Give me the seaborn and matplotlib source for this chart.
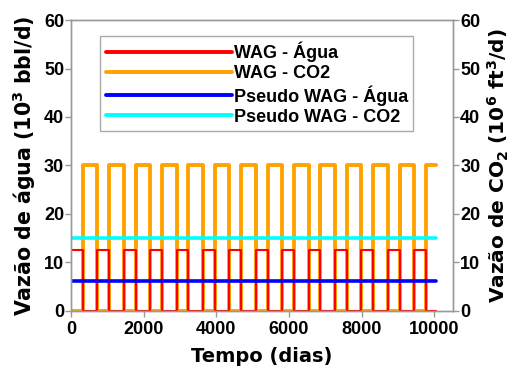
import matplotlib
matplotlib.use('Agg')
import matplotlib.pyplot as plt
import seaborn as sns

# ---- data ----
wag_time = [0, 323, 723, 1050, 1450, 1777, 2177, 2504, 2904, 3231, 3631, 3958, 4358,
            4685, 5085, 5412, 5812, 6139, 6539, 6866, 7266, 7593, 7993, 8320, 8720,
            9047, 9447, 9774, 10050]
wag_agua = [12.5, 0, 12.5, 0, 12.5, 0, 12.5, 0, 12.5, 0, 12.5, 0, 12.5, 0,
            12.5, 0, 12.5, 0, 12.5, 0, 12.5, 0, 12.5, 0, 12.5, 0, 12.5, 0, 0]
wag_co2 = [0, 30, 0, 30, 0, 30, 0, 30, 0, 30, 0, 30, 0, 30,
           0, 30, 0, 30, 0, 30, 0, 30, 0, 30, 0, 30, 0, 30, 30]
pseudo_time = [0, 10050]
pseudo_agua = [6.25, 6.25]
pseudo_co2 = [15, 15]

labels = ['WAG - Água', 'WAG - CO2', 'Pseudo WAG - Água', 'Pseudo WAG - CO2']
colors = ['#ff0000', '#ffa200', '#0000ff', '#00ffff']
xticks = [0, 2000, 4000, 6000, 8000, 10000]
yticks = [0, 10, 20, 30, 40, 50, 60]

sns.set_style('white')
plt.rcParams['font.family'] = ['Liberation Sans', 'DejaVu Sans']
plt.rcParams['font.weight'] = 'bold'
plt.rcParams['mathtext.fontset'] = 'dejavusans'
plt.rcParams['mathtext.default'] = 'bf'
plt.rcParams['text.color'] = 'black'
plt.rcParams['axes.labelcolor'] = 'black'

fig = plt.figure(figsize=(5.15, 3.67), dpi=100)
ax = fig.add_axes([0.138, 0.1526, 0.742, 0.7929])
ax2 = ax.twinx()

sns.lineplot(x=wag_time, y=wag_co2, ax=ax, color=colors[1], lw=2.8,
             drawstyle='steps-post', label=labels[1], sort=False, estimator=None)
sns.lineplot(x=wag_time, y=wag_agua, ax=ax, color=colors[0], lw=1.5,
             drawstyle='steps-post', label=labels[0], sort=False, estimator=None)
sns.lineplot(x=pseudo_time, y=pseudo_agua, ax=ax, color=colors[2], lw=2.6,
             label=labels[2], sort=False, estimator=None)
sns.lineplot(x=pseudo_time, y=pseudo_co2, ax=ax, color=colors[3], lw=2.6,
             label=labels[3], sort=False, estimator=None)

h1, l1 = ax.get_legend_handles_labels()
if ax.get_legend():
    ax.get_legend().remove()
hd = {l: h for h, l in zip(h1, l1)}
leg = ax2.legend([hd[l] for l in labels], labels, loc='upper left',
                 bbox_to_anchor=(0.076, 0.945), fontsize=13, frameon=True,
                 fancybox=False, edgecolor='#aaaaaa', framealpha=1,
                 handlelength=7.0, handletextpad=0.1, labelspacing=0.17,
                 borderpad=0.3, borderaxespad=0)
leg.get_frame().set_linewidth(1.0)
for t in leg.get_texts():
    t.set_fontweight('bold')
    t.set_color('black')
for h in leg.get_lines():
    h.set_linewidth(2.8)

for a in (ax, ax2):
    a.set_xlim(0, 10520)
    a.set_ylim(0, 60)
    a.set_yticks(yticks)
    for s in a.spines.values():
        s.set_color('#999999')
        s.set_linewidth(1.0)
    a.tick_params(axis='both', direction='out', length=4, width=1, color='#999999',
                  labelcolor='black', labelsize=13, pad=1)
ax.set_xticks(xticks)
ax.tick_params(axis='x', pad=3)
ax.tick_params(left=True, bottom=True)
ax2.tick_params(right=True)
for t in ax.get_xticklabels() + ax.get_yticklabels() + ax2.get_yticklabels():
    t.set_fontweight('bold')

ax.set_xlabel('Tempo (dias)', fontsize=14, fontweight='bold', family='DejaVu Sans', labelpad=7)
ax.set_ylabel('Vazão de água (10$^{3}$ bbl/d)', fontsize=14.8, fontweight='bold',
              family='DejaVu Sans', labelpad=4)
ax2.set_ylabel('Vazão de CO$_{2}$ (10$^{6}$ ft$^{3}$/d)', fontsize=14.5, fontweight='bold',
               family='DejaVu Sans', labelpad=4)

fig.savefig('out.png', dpi=100)
